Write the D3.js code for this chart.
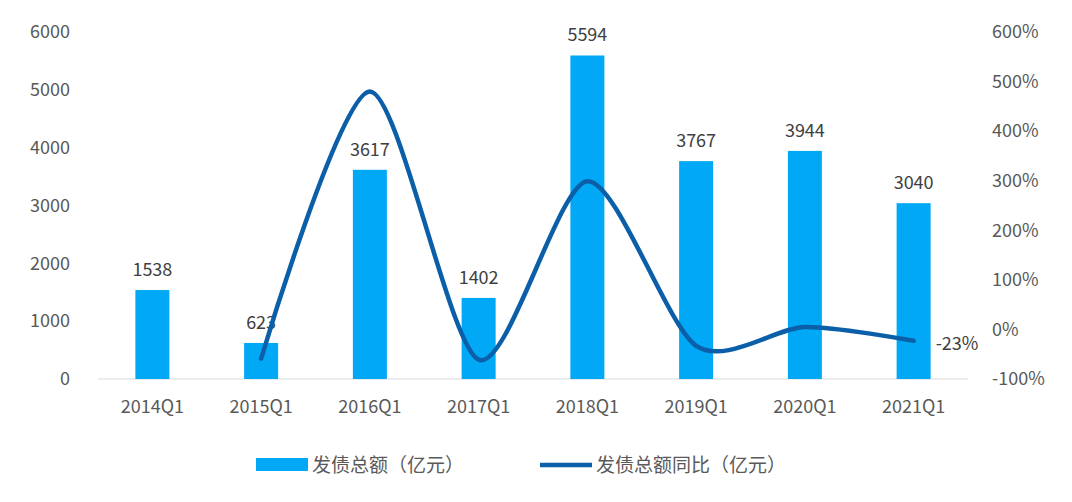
<!DOCTYPE html>
<html><head><meta charset="utf-8">
<script src="https://cdn.jsdelivr.net/npm/d3@7"></script>
<style>body{margin:0;background:#fff;} text{font-family:"Noto Sans CJK SC","Noto Sans",sans-serif;}</style>
</head><body><div id="chart"></div>
<script>
const categories = ["2014Q1","2015Q1","2016Q1","2017Q1","2018Q1","2019Q1","2020Q1","2021Q1"];
const amounts = [1538,623,3617,1402,5594,3767,3944,3040];
const yoy = [null,-59,480,-61,299,-33,5,-23];
const leftTicks = [0,1000,2000,3000,4000,5000,6000];
const rightTicks = [-100,0,100,200,300,400,500,600];

const W = 1072, H = 502;
const m = {left: 98, right: 104, top: 32, bottom: 123};
const svg = d3.select("#chart").append("svg").attr("width", W).attr("height", H);

const x = d3.scaleBand().domain(categories).range([m.left, W - m.right]);
const yL = d3.scaleLinear().domain([0, 6000]).range([H - m.bottom, m.top]);
const yR = d3.scaleLinear().domain([-100, 600]).range([H - m.bottom, m.top]);
const grey = "#595959";

// baseline
svg.append("line").attr("x1", m.left).attr("x2", W - m.right)
  .attr("y1", yL(0)).attr("y2", yL(0)).attr("stroke", "#d9d9d9").attr("stroke-width", 1);

svg.append("g").selectAll("text").data(leftTicks).enter().append("text")
  .attr("x", 70).attr("y", d => yL(d)).attr("dy", "0.35em").attr("text-anchor", "end")
  .attr("font-size", 18).attr("fill", grey).text(d => d);

svg.append("g").selectAll("text").data(rightTicks).enter().append("text")
  .attr("x", 992).attr("y", d => yR(d)).attr("dy", "0.35em").attr("text-anchor", "start")
  .attr("font-size", 18).attr("fill", grey).text(d => d + "%");

svg.append("g").selectAll("text").data(categories).enter().append("text")
  .attr("x", d => x(d) + x.bandwidth() / 2).attr("y", yL(0) + 34).attr("text-anchor", "middle")
  .attr("font-size", 18).attr("fill", grey).text(d => d);

const bw = 34;
svg.append("g").selectAll("rect").data(amounts).enter().append("rect")
  .attr("x", (d, i) => x(categories[i]) + x.bandwidth() / 2 - bw / 2)
  .attr("y", d => yL(d)).attr("width", bw).attr("height", d => yL(0) - yL(d))
  .attr("fill", "#00a8f5");

svg.append("g").selectAll("text").data(amounts).enter().append("text")
  .attr("x", (d, i) => x(categories[i]) + x.bandwidth() / 2)
  .attr("y", d => yL(d) - 14).attr("text-anchor", "middle")
  .attr("font-size", 18).attr("fill", "#404040").text(d => d);

const pts = yoy.map((v, i) => ({c: categories[i], v})).filter(d => d.v !== null);
const line = d3.line().x(d => x(d.c) + x.bandwidth() / 2).y(d => yR(d.v)).curve(d3.curveCardinal.tension(0.2));
svg.append("path").attr("d", line(pts)).attr("fill", "none")
  .attr("stroke", "#0b5ea8").attr("stroke-width", 4.5).attr("stroke-linecap", "round");

const last = pts[pts.length - 1];
svg.append("text").attr("x", x(last.c) + x.bandwidth() / 2 + 22).attr("y", yR(last.v) + 3)
  .attr("dy", "0.35em").attr("font-size", 18).attr("fill", "#404040").text(last.v + "%");

// legend
const lg = svg.append("g");
lg.append("rect").attr("x", 256).attr("y", 458).attr("width", 52).attr("height", 13).attr("fill", "#00a8f5");
lg.append("text").attr("x", 312).attr("y", 465).attr("dy", "0.35em").attr("font-size", 19).attr("fill", grey).text("发债总额（亿元）");
lg.append("line").attr("x1", 540).attr("x2", 592).attr("y1", 465).attr("y2", 465)
  .attr("stroke", "#0b5ea8").attr("stroke-width", 4.5);
lg.append("text").attr("x", 596).attr("y", 465).attr("dy", "0.35em").attr("font-size", 19).attr("fill", grey).text("发债总额同比（亿元）");
</script></body></html>
